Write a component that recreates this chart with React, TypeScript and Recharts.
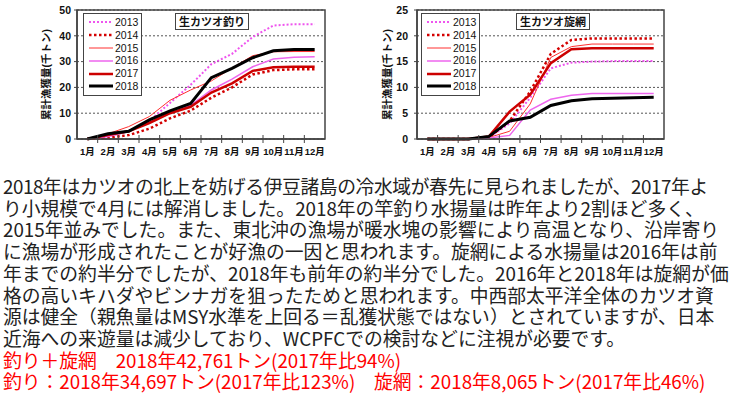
import { LineChart, Line, XAxis, YAxis, CartesianGrid, Legend, ReferenceArea } from "recharts"

const months = ["1月", "2月", "3月", "4月", "5月", "6月", "7月", "8月", "9月", "10月", "11月", "12月"]
const years = ["2013", "2014", "2015", "2016", "2017", "2018"]

// 生カツオ釣り (千トン, cumulative)
const tsuri2013 = [0, 1, 3, 7, 14, 21, 29, 33, 39.5, 44, 44.5, 44.5]
const tsuri2014 = [0, 0.5, 1.5, 4, 8, 11, 16, 20, 25, 26.7, 27, 27]
const tsuri2015 = [0, 2, 4.8, 8.7, 15, 19, 22.5, 27.5, 32.3, 33.8, 33.9, 33.9]
const tsuri2016 = [0, 1, 3, 6.5, 10, 13, 19, 23.2, 28, 31, 31.7, 31.9]
const tsuri2017 = [0, 1.5, 3, 6.2, 10, 12.5, 18, 21.6, 26.4, 27.8, 28, 28]
const tsuri2018 = [0, 2, 3, 7.4, 10.9, 13.8, 23.8, 27.4, 31.5, 34.2, 34.7, 34.7]

// 生カツオ旋網
const maki2013 = [0, 0, 0, 0.3, 3, 8, 13.7, 14.8, 15, 15.1, 15.1, 15.1]
const maki2014 = [0, 0, 0, 0.3, 3.5, 9.2, 16.5, 19.2, 19.5, 19.5, 19.5, 19.5]
const maki2015 = [0, 0, 0, 0.3, 1.5, 6.8, 15.8, 17.9, 18.4, 18.4, 18.4, 18.4]
const maki2016 = [0, 0, 0, 0.2, 0.7, 5.6, 7.7, 8.5, 8.8, 8.8, 8.8, 8.8]
const maki2017 = [0, 0, 0, 0.5, 5.3, 8.6, 14.7, 17.4, 17.6, 17.6, 17.6, 17.6]
const maki2018 = [0, 0, 0, 0.5, 3.5, 4.2, 6.5, 7.4, 7.8, 7.9, 8, 8.1]

const tsuriTicks = [0, 10, 20, 30, 40, 50]
const makiTicks = [0, 5, 10, 15, 20, 25]

const textLines = [
  "2018年はカツオの北上を妨げる伊豆諸島の冷水域が春先に見られましたが、2017年よ",
  "り小規模で4月には解消しました。2018年の竿釣り水揚量は昨年より2割ほど多く、",
  "2015年並みでした。また、東北沖の漁場が暖水塊の影響により高温となり、沿岸寄り",
  "に漁場が形成されたことが好漁の一因と思われます。旋網による水揚量は2016年は前",
  "年までの約半分でしたが、2018年も前年の約半分でした。2016年と2018年は旋網が価",
  "格の高いキハダやビンナガを狙ったためと思われます。中西部太平洋全体のカツオ資",
  "源は健全（親魚量はMSY水準を上回る＝乱獲状態ではない）とされていますが、日本",
  "近海への来遊量は減少しており、WCPFCでの検討などに注視が必要です。",
]
const redLines = [
  "釣り＋旋網　2018年42,761トン(2017年比94%)",
  "釣り：2018年34,697トン(2017年比123%)　旋網：2018年8,065トン(2017年比46%)",
]

const seriesStyle: Record<string, { color: string; width: number; dash?: string }> = {
  "2013": { color: "#ee55ee", width: 2, dash: "2 2" },
  "2014": { color: "#d40000", width: 2.5, dash: "2.5 2.5" },
  "2015": { color: "#ff3030", width: 1 },
  "2016": { color: "#ee66ee", width: 1.5 },
  "2017": { color: "#cc0000", width: 2.5 },
  "2018": { color: "#000000", width: 3 },
}

const xTicks = months.flatMap((_, i) => (i < months.length - 1 ? [i + 1, i + 1.5] : [i + 1]))

const buildRows = (series: number[][]) =>
  months.map((label, i) => {
    const row: Record<string, number | string> = { m: i + 1, label }
    years.forEach((y, k) => (row[y] = series[k][i]))
    return row
  })

const tsuriData = buildRows([tsuri2013, tsuri2014, tsuri2015, tsuri2016, tsuri2017, tsuri2018])
const makiData = buildRows([maki2013, maki2014, maki2015, maki2016, maki2017, maki2018])

const chartFont = "'Liberation Sans', 'Noto Sans CJK JP', sans-serif"

function MonthTick({ x, y, payload }: any) {
  const v = payload.value
  if (Number.isInteger(v)) {
    return (
      <text x={x} y={y + 16} textAnchor="middle" fontSize={9.5} fontWeight="bold" fill="#111" fontFamily={chartFont}>
        {months[v - 1]}
      </text>
    )
  }
  return <line x1={x} x2={x} y1={y - 4} y2={y + 4} stroke="#444" strokeWidth={1} />
}

function LegendBox({ payload }: any) {
  return (
    <div
      style={{
        border: "1px solid #444",
        background: "#fff",
        padding: "2px 3px 2px 4px",
        fontFamily: chartFont,
        fontSize: 10.5,
        lineHeight: "12.8px",
        color: "#111",
      }}
    >
      {(payload ?? []).map((p: any) => {
        const s = seriesStyle[p.dataKey] ?? seriesStyle[p.value]
        return (
          <div key={p.value} style={{ display: "flex", alignItems: "center", height: 12.8 }}>
            <svg width={26} height={8} style={{ marginRight: 1 }}>
              <line x1={1} x2={25} y1={4} y2={4} stroke={s.color} strokeWidth={s.width} strokeDasharray={s.dash} />
            </svg>
            <span>{p.value}</span>
          </div>
        )
      })}
    </div>
  )
}

function CatchChart({
  data,
  ticks,
  left,
  width,
  labelOffset,
  tickMargin,
  legendLeft,
}: {
  data: Record<string, number | string>[]
  ticks: number[]
  left: number
  width: number
  labelOffset: number
  tickMargin: number
  legendLeft: number
}) {
  const yMax = ticks[ticks.length - 1]
  return (
    <div style={{ position: "absolute", left, top: 0 }}>
      <LineChart width={width} height={170} data={data} margin={{ top: 10, right: 15, bottom: 1, left: 0 }}>
        <CartesianGrid vertical={false} stroke="#555" strokeDasharray="2 2" />
        <XAxis
          dataKey="m"
          type="number"
          domain={[0.5, 12.5]}
          ticks={xTicks}
          interval={0}
          tickSize={0}
          tickMargin={0}
          tickLine={false}
          tick={<MonthTick />}
          height={30}
          axisLine={{ stroke: "#444", strokeWidth: 1.5 }}
        />
        <YAxis
          domain={[0, yMax]}
          ticks={ticks}
          interval={0}
          width={77}
          tickSize={3}
          tickMargin={tickMargin}
          tick={{ fontSize: 10.5, fontWeight: "bold", fill: "#111", fontFamily: chartFont }}
          tickLine={{ stroke: "#444" }}
          axisLine={{ stroke: "#444", strokeWidth: 1.5 }}
          label={{
            value: "累計漁獲量(千トン)",
            angle: -90,
            position: "insideLeft",
            offset: labelOffset,
            style: { textAnchor: "middle", fontSize: 10.5, fontWeight: "bold", fill: "#111", fontFamily: chartFont },
          }}
        />
        <ReferenceArea x1={0.5} x2={12.5} y1={0} y2={yMax} fill="none" stroke="#444" strokeWidth={1.5} />
        <Legend
          layout="vertical"
          align="center"
          verticalAlign="middle"
          content={<LegendBox />}
          wrapperStyle={{ position: "absolute", left: legendLeft, top: 13, width: "auto", height: "auto" }}
        />
        {years.map((y) => (
          <Line
            key={y}
            type="linear"
            dataKey={y}
            name={y}
            stroke={seriesStyle[y].color}
            strokeWidth={seriesStyle[y].width}
            strokeDasharray={seriesStyle[y].dash}
            dot={false}
            isAnimationActive={false}
          />
        ))}
      </LineChart>
    </div>
  )
}

const titleStyle = {
  position: "absolute" as const,
  top: 13,
  height: 15,
  border: "1px solid #444",
  background: "#fff",
  fontFamily: "'Noto Sans CJK JP', sans-serif",
  fontWeight: "bold" as const,
  fontSize: 11,
  lineHeight: "15px",
  padding: "0 3px",
  color: "#111",
}

export default function App() {
  return (
    <div
      style={{
        position: "absolute",
        left: 0,
        top: 0,
        width: 743,
        height: 398,
        background: "#fff",
        overflow: "hidden",
      }}
    >
      <CatchChart data={tsuriData} ticks={tsuriTicks} left={0} width={340} labelOffset={46} tickMargin={3} legendLeft={83} />
      <CatchChart data={makiData} ticks={makiTicks} left={340} width={339} labelOffset={47} tickMargin={6} legendLeft={81} />
      <div style={{ ...titleStyle, left: 175 }}>生カツオ釣り</div>
      <div style={{ ...titleStyle, left: 516 }}>生カツオ旋網</div>
      <div
        style={{
          position: "absolute",
          left: 3,
          top: 175,
          fontFamily: "'Noto Sans CJK JP', sans-serif",
          fontSize: 18.8,
          lineHeight: "21.7px",
          whiteSpace: "nowrap",
        }}
      >
        {textLines.map((t, i) => (
          <div key={t} style={{ color: "#222", letterSpacing: i === 0 ? -0.4 : 0 }}>
            {t}
          </div>
        ))}
        {redLines.map((t) => (
          <div key={t} style={{ color: "#ff0000" }}>
            {t}
          </div>
        ))}
      </div>
    </div>
  )
}
